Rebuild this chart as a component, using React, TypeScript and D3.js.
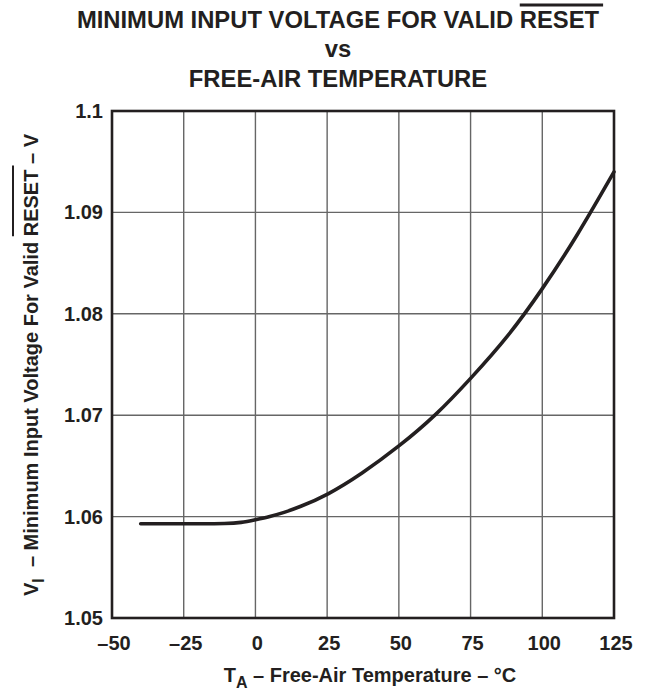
import { useEffect, useRef } from "react";
import * as d3 from "d3";

// readings
const temps = [-40, -30, -20, -10, -5, 0, 5, 10, 15, 25, 37, 50, 63, 75, 88, 100, 112, 125];
const volts = [
  1.0593, 1.0593, 1.0593, 1.0593, 1.0594, 1.0597, 1.06, 1.0604, 1.0609, 1.0621, 1.0642, 1.0669,
  1.07, 1.0736, 1.0777, 1.0824, 1.0876, 1.094,
];

const xTicks = [-50, -25, 0, 25, 50, 75, 100, 125];
const xTickLabels = ["–50", "–25", "0", "25", "50", "75", "100", "125"];
const yTicks = [1.05, 1.06, 1.07, 1.08, 1.09, 1.1];
const yTickLabels = ["1.05", "1.06", "1.07", "1.08", "1.09", "1.1"];

const W = 652;
const H = 691;
const FONT = "'Liberation Sans', Arial, Helvetica, sans-serif";
const INK = "#231f20";

export default function App() {
  const ref = useRef<SVGSVGElement>(null);

  useEffect(() => {
    const svg = d3.select(ref.current);
    svg.selectAll("*").remove();

    const x = d3.scaleLinear().domain([-50, 125]).range([112, 614]);
    const y = d3.scaleLinear().domain([1.05, 1.1]).range([618, 111]);

    // grid
    const grid = svg.append("g").attr("stroke", "#666").attr("stroke-width", 1.4);
    grid
      .selectAll("line.v")
      .data(xTicks.slice(1, -1))
      .join("line")
      .attr("x1", (d) => x(d))
      .attr("x2", (d) => x(d))
      .attr("y1", y(1.1))
      .attr("y2", y(1.05));
    grid
      .selectAll("line.h")
      .data(yTicks.slice(1, -1))
      .join("line")
      .attr("x1", x(-50))
      .attr("x2", x(125))
      .attr("y1", (d) => y(d))
      .attr("y2", (d) => y(d));

    // frame
    svg
      .append("rect")
      .attr("x", x(-50))
      .attr("y", y(1.1))
      .attr("width", x(125) - x(-50))
      .attr("height", y(1.05) - y(1.1))
      .attr("fill", "none")
      .attr("stroke", INK)
      .attr("stroke-width", 2.6);

    // curve
    const line = d3
      .line<number>()
      .x((_, i) => x(temps[i]))
      .y((d) => y(d))
      .curve(d3.curveBasis);
    svg
      .append("path")
      .attr("d", line(volts))
      .attr("fill", "none")
      .attr("stroke", INK)
      .attr("stroke-width", 3.6)
      .attr("stroke-linecap", "round");

    const txt = svg
      .append("g")
      .attr("font-family", FONT)
      .attr("font-weight", "bold")
      .attr("fill", INK);

    // tick labels
    txt
      .selectAll("text.xt")
      .data(xTicks)
      .join("text")
      .attr("x", (d) => x(d) + 2)
      .attr("y", 650)
      .attr("text-anchor", "middle")
      .attr("font-size", 20)
      .text((_, i) => xTickLabels[i]);
    txt
      .selectAll("text.yt")
      .data(yTicks)
      .join("text")
      .attr("x", 103)
      .attr("y", (d) => y(d) + 7)
      .attr("text-anchor", "end")
      .attr("font-size", 20)
      .text((_, i) => yTickLabels[i]);

    // title
    const t1 = txt
      .append("text")
      .attr("x", 338)
      .attr("y", 28)
      .attr("text-anchor", "middle")
      .attr("font-size", 23.8);
    t1.append("tspan").text("MINIMUM INPUT VOLTAGE FOR VALID ");
    t1.append("tspan").text("RESET");
    txt.append("text").attr("x", 338).attr("y", 57).attr("text-anchor", "middle").attr("font-size", 23.8).text("vs");
    txt
      .append("text")
      .attr("x", 338)
      .attr("y", 87)
      .attr("text-anchor", "middle")
      .attr("font-size", 23.8)
      .text("FREE-AIR TEMPERATURE");

    const overline = (el: SVGTextElement, from: number, to: number, yy: number, sw: number, g: any) => {
      const a = el.getStartPositionOfChar(from).x;
      const b = el.getEndPositionOfChar(to).x;
      g.append("line")
        .attr("x1", a)
        .attr("x2", b + 4)
        .attr("y1", yy)
        .attr("y2", yy)
        .attr("stroke", INK)
        .attr("stroke-width", sw);
    };
    const full1 = "MINIMUM INPUT VOLTAGE FOR VALID RESET";
    overline(t1.node()!, full1.indexOf("RESET"), full1.length - 1, 5, 3, svg);

    // x label
    const xl = txt
      .append("text")
      .attr("x", 370)
      .attr("y", 682)
      .attr("text-anchor", "middle")
      .attr("font-size", 20);
    xl.append("tspan").text("T");
    xl.append("tspan").attr("font-size", 16).attr("dy", 6).text("A");
    xl.append("tspan").attr("dy", -6).text(" – Free-Air Temperature – °C");

    // y label
    const yg = svg.append("g").attr("transform", "translate(38,365) rotate(-90)");
    const yl = yg
      .append("text")
      .attr("x", 0)
      .attr("y", 0)
      .attr("text-anchor", "middle")
      .attr("font-family", FONT)
      .attr("font-weight", "bold")
      .attr("fill", INK)
      .attr("font-size", 20);
    yl.append("tspan").text("V");
    yl.append("tspan").attr("font-size", 16).attr("dy", 6).text("I");
    yl.append("tspan").attr("dy", -6).text("\u00a0\u00a0– Minimum Input Voltage For Valid ");
    yl.append("tspan").text("RESET");
    yl.append("tspan").text(" – V");
    const full2 = "VI\u00a0\u00a0– Minimum Input Voltage For Valid RESET – V";
    overline(yl.node()!, full2.indexOf("RESET"), full2.indexOf("RESET") + 4, -25, 2, yg);
  }, []);

  return (
    <svg
      ref={ref}
      width={W}
      height={H}
      viewBox={`0 0 ${W} ${H}`}
      style={{ position: "absolute", left: 0, top: 0, background: "#fff" }}
    />
  );
}
